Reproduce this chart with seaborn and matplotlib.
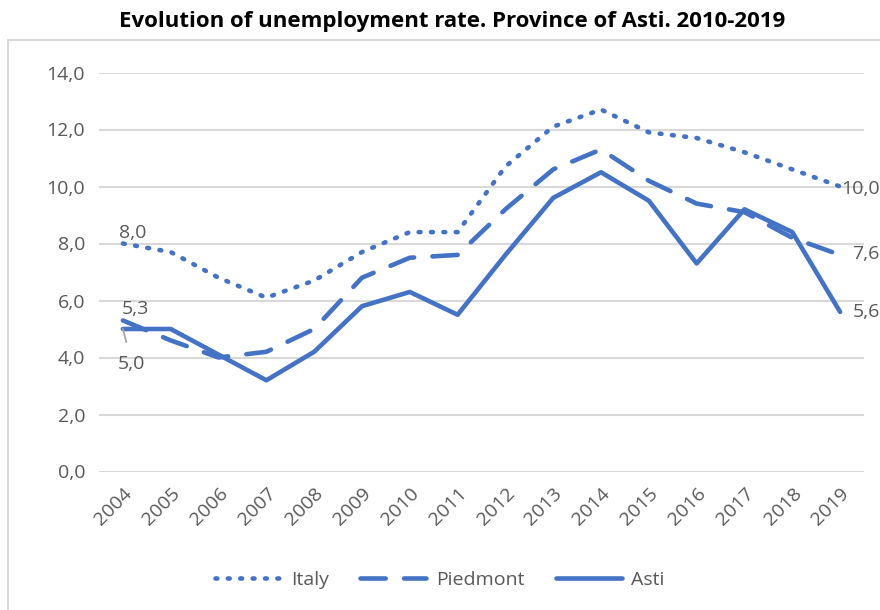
import matplotlib
matplotlib.use("Agg")
import matplotlib.pyplot as plt
from matplotlib.lines import Line2D
from matplotlib.patches import Rectangle
import pandas as pd
import seaborn as sns

years = [str(y) for y in range(2004, 2020)]
italy = [8.0, 7.7, 6.8, 6.1, 6.7, 7.7, 8.4, 8.4, 10.7, 12.1, 12.7, 11.9, 11.7, 11.2, 10.6, 10.0]
piedmont = [5.3, 4.6, 4.0, 4.2, 5.0, 6.8, 7.5, 7.6, 9.2, 10.6, 11.3, 10.2, 9.4, 9.1, 8.2, 7.6]
asti = [5.0, 5.0, 4.1, 3.2, 4.2, 5.8, 6.3, 5.5, 7.6, 9.6, 10.5, 9.5, 7.3, 9.2, 8.4, 5.6]
yticks = [0, 2, 4, 6, 8, 10, 12, 14]

sns.set_theme(style="white")
plt.rcParams["font.family"] = ["Open Sans", "DejaVu Sans"]

BLUE = "#4472C4"
GREY = "#595959"
GRID = "#D9D9D9"
FS = 14

fig = plt.figure(figsize=(8.8, 6.1), dpi=100)
ax = fig.add_axes([99 / 880, 1 - 471.5 / 610, (864 - 99) / 880, (471.5 - 72.5) / 610])

x = list(range(len(years)))
df = pd.DataFrame({"x": x, "Italy": italy, "Piedmont": piedmont, "Asti": asti})

styles = {
    "Italy": (0, (0.4, 2.3)),
    "Piedmont": (0, (5.5, 4.0)),
    "Asti": "-",
}
for name, ls in styles.items():
    sns.lineplot(data=df, x="x", y=name, ax=ax, color=BLUE, lw=3.3,
                 linestyle=ls, zorder=3)
    ln = ax.get_lines()[-1]
    ln.set_dash_capstyle("round")
    ln.set_solid_capstyle("round")
    ln.set_solid_joinstyle("round")

ax.set_xlim(-0.5, len(years) - 0.5)
ax.set_ylim(0, 14)
ax.set_yticks(yticks)
ax.set_yticklabels([f"{v:.1f}".replace(".", ",") for v in yticks])
ax.set_xticks(x)
ax.set_xticklabels(years, rotation=45, ha="right", rotation_mode="anchor")
ax.tick_params(axis="both", colors=GREY, labelsize=FS, length=0)
ax.tick_params(axis="x", pad=9)
ax.tick_params(axis="y", pad=10)
ax.yaxis.grid(True, color=GRID, lw=1.5)
ax.set_axisbelow(True)
for s in ax.spines.values():
    s.set_visible(False)
ax.set_xlabel("")
ax.set_ylabel("")


def fmt(v):
    return f"{v:.1f}".replace(".", ",")


lab = dict(color=GREY, fontsize=FS, textcoords="offset points", annotation_clip=False)
# first-year values
ax.annotate(fmt(italy[0]), (0, italy[0]), xytext=(-3, 1), ha="left", va="bottom", **lab)
ax.annotate(fmt(piedmont[0]), (0, piedmont[0]), xytext=(-1, 2), ha="left", va="bottom", **lab)
ax.annotate(fmt(asti[0]), (0, asti[0]), xytext=(6.5, -25), ha="center", va="center",
            arrowprops=dict(arrowstyle="-", color="#A6A6A6", lw=1.3,
                            shrinkA=7, shrinkB=0), **lab)
# last-year values
ax.annotate(fmt(italy[-1]), (15, italy[-1]), xytext=(1, -2), ha="left", va="center", **lab)
ax.annotate(fmt(piedmont[-1]), (15, piedmont[-1]), xytext=(9, 1), ha="left", va="center", **lab)
ax.annotate(fmt(asti[-1]), (15, asti[-1]), xytext=(9, 0), ha="left", va="center", **lab)

handles = [Line2D([0], [0], color=BLUE, lw=3.3, linestyle=styles[n],
                  dash_capstyle="round", solid_capstyle="round") for n in styles]
leg = fig.legend(handles, list(styles), loc="center", bbox_to_anchor=(0.5, 1 - 580 / 610),
                 ncol=3, frameon=False, handlelength=3.4, columnspacing=1.6,
                 handletextpad=0.5, fontsize=FS)
for t in leg.get_texts():
    t.set_color(GREY)

fig.text(452 / 880, 1 - 21 / 610, "Evolution of unemployment rate. Province of Asti. 2010-2019",
         ha="center", va="center", fontsize=16, fontweight="bold", color="black",
         family=["Liberation Sans Narrow", "Open Sans", "DejaVu Sans"])

fig.patches.append(Rectangle((8 / 880, -0.1), 1.2, 1.1 - 40 / 610,
                             transform=fig.transFigure, fill=False,
                             edgecolor=GRID, lw=1.5, zorder=0))

fig.savefig("out.png", dpi=100)
